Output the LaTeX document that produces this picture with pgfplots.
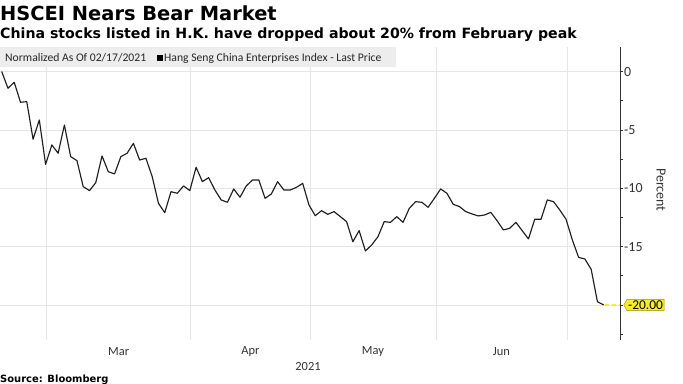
\documentclass[border=0pt]{standalone}
\usepackage{pgfplots}
\pgfplotsset{compat=1.18}
\usepackage{fontspec}
\setmainfont{Carlito}
\newfontfamily\dvfont{DejaVu Sans}
\usetikzlibrary{shapes.symbols}
\definecolor{gridc}{HTML}{E6E6E6}
\definecolor{linec}{HTML}{1E1E1E}
\definecolor{legbg}{HTML}{EDEDED}
\definecolor{ylw}{HTML}{F7EE1B}
\definecolor{ylwd}{HTML}{9A9200}
\definecolor{txt}{HTML}{333333}
\begin{document}
\begin{tikzpicture}
\path[use as bounding box] (0bp,-44bp) rectangle (683bp,340bp);
\begin{axis}[
  at={(0bp,0bp)}, anchor=south west, scale only axis,
  width=620bp, height=293.3bp,
  xmin=-0.27, xmax=98.6, ymin=-23.0, ymax=2.13,
  clip=false,
  axis y line*=right, axis x line*=bottom,
  x axis line style={draw=none},
  y axis line style={draw=txt, line width=0.9bp},
  xtick={18.66,39.66,59.2,79.7}, xticklabels={Mar,Apr,May,Jun},
  xtick style={draw=none},
  xticklabel style={font=\fontsize{12.5}{14}\selectfont, text=txt, anchor=center, yshift=-9bp},
  extra x ticks={7.18,30.14,49.17,69.3,90.16}, extra x tick labels={},
  extra x tick style={grid=major},
  ytick={0,-5,-10,-15}, yticklabels={0,-5,-10,-15},
  extra y ticks={-20}, extra y tick labels={},
  extra y tick style={grid=major},
  ymajorgrids,
  minor ytick={-2.5,-7.5,-12.5,-17.5,-22.5},
  ytick style={draw=txt, line width=0.7bp},
  tick align=outside, major tick length=3bp, minor tick length=2.5bp,
  yticklabel style={font=\fontsize{14}{16}\selectfont, text=txt, anchor=west, inner sep=0pt, xshift=1bp},
  major grid style={draw=gridc, line width=0.7bp},
]
\addplot[linec, line width=1.15bp, line join=round] table {
x y
0 0.0
1 -1.43
2 -0.92
3 -2.63
4 -2.58
5 -5.8
6 -4.15
7 -7.95
8 -6.29
9 -7.0
10 -4.58
11 -7.29
12 -7.63
13 -9.86
14 -10.2
15 -9.52
16 -7.23
17 -8.58
18 -8.77
19 -7.29
20 -7.0
21 -6.15
22 -7.58
23 -7.43
24 -9.0
25 -11.29
26 -12.09
27 -10.29
28 -10.43
29 -9.8
30 -10.2
31 -8.2
32 -9.43
33 -9.09
34 -10.15
35 -11.0
36 -11.2
37 -10.06
38 -10.77
39 -9.8
40 -9.29
41 -9.29
42 -10.86
43 -10.49
44 -9.43
45 -10.15
46 -10.15
47 -9.92
48 -9.58
49 -11.43
50 -12.35
51 -11.92
52 -12.23
53 -12.0
54 -12.43
55 -12.86
56 -14.58
57 -13.63
58 -15.37
59 -14.86
60 -14.15
61 -12.86
62 -12.92
63 -12.43
64 -12.92
65 -11.72
66 -11.15
67 -11.2
68 -11.63
69 -10.86
70 -10.06
71 -10.43
72 -11.37
73 -11.57
74 -12.0
75 -12.2
76 -12.37
77 -12.29
78 -12.06
79 -12.78
80 -13.57
81 -13.43
82 -12.92
83 -13.63
84 -14.34
85 -12.66
86 -12.66
87 -11.0
88 -11.15
89 -11.86
90 -12.66
91 -14.43
92 -15.92
93 -16.06
94 -16.94
95 -19.72
96 -20.0
};
\addplot[ylw, line width=1.8bp, dash pattern=on 4bp off 3bp] coordinates {(96.2,-20) (98.6,-20)};
\node[signal, signal to=west, signal pointer angle=120, fill=ylw, draw=ylwd, line width=0.4bp,
      inner sep=1.2bp, anchor=west, font=\fontsize{13.5}{15}\selectfont, text=black]
      at (axis cs:98.6,-20) [xshift=3.5bp] {-20.00};
\end{axis}
% legend box
\fill[legbg] (0bp,273bp) rectangle (396bp,293bp);
\node[anchor=base west, inner sep=0pt, font=\fontsize{11.7}{13}\selectfont, text=black!85] at (5bp,278.5bp) {Normalized As Of 02/17/2021};
\fill[black] (156.5bp,278.5bp) rectangle (163bp,285bp);
\node[anchor=base west, inner sep=0pt, font=\fontsize{11.7}{13}\selectfont, text=black!85] at (164bp,278.5bp) {Hang Seng China Enterprises Index - Last Price};
% titles
\node[anchor=base west, inner sep=0pt, font=\dvfont\bfseries\fontsize{19.5}{21}\selectfont] at (0bp,319bp) {HSCEI Nears Bear Market};
\node[anchor=base west, inner sep=0pt, font=\dvfont\bfseries\fontsize{14.2}{16}\selectfont] at (0bp,301bp) {China stocks listed in H.K. have dropped about 20\% from February peak};
% axis labels
\node[rotate=-90, font=\fontsize{14}{16}\selectfont, text=txt] at (661bp,150bp) {Percent};
\node[font=\fontsize{12.5}{14}\selectfont, text=txt] at (308bp,-27bp) {2021};
\node[anchor=base west, inner sep=0pt, font=\dvfont\bfseries\fontsize{10}{12}\selectfont] at (0bp,-42bp) {Source: Bloomberg};
\end{tikzpicture}
\end{document}
